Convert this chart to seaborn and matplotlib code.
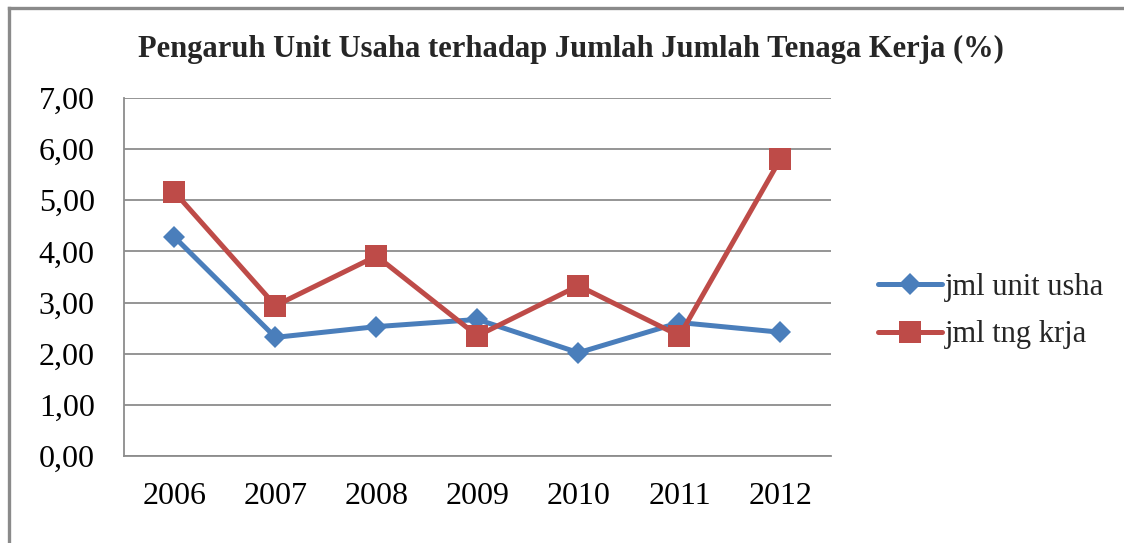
import pandas as pd
import matplotlib.pyplot as plt
import seaborn as sns
from matplotlib.lines import Line2D

# Data
years = ['2006', '2007', '2008', '2009', '2010', '2011', '2012']
unit_usaha = [4.28, 2.32, 2.53, 2.67, 2.02, 2.61, 2.42]
tenaga_kerja = [5.16, 2.94, 3.91, 2.35, 3.33, 2.35, 5.81]
series_names = ['jml unit usha', 'jml tng krja']

df = pd.DataFrame({
    'tahun': years * 2,
    'nilai': unit_usaha + tenaga_kerja,
    'seri': [series_names[0]] * len(years) + [series_names[1]] * len(years),
})

sns.set_style('white')
plt.rcParams['font.family'] = ['Liberation Serif', 'DejaVu Serif']

fig = plt.figure(figsize=(11.24, 5.43), dpi=100)
ax = fig.add_axes([0.1103, 0.1602, 0.6290, 0.6593])

sns.lineplot(data=df, x='tahun', y='nilai', hue='seri', style='seri',
             palette=['#4A7EBB', '#BE4B48'], markers=['D', 's'], dashes=False,
             linewidth=3.6, markeredgewidth=0, ax=ax)

# marker sizes differ per series
marker_sizes = [11.5, 16]
for line, ms in zip(ax.get_lines(), marker_sizes):
    line.set_markersize(ms)

ax.set_xlim(-0.5, 6.5)
ax.set_ylim(0, 7)
ax.set_yticks(range(0, 8))
ax.set_yticklabels([f'{v:.2f}'.replace('.', ',') for v in range(0, 8)])
ax.yaxis.grid(True, color='#8c8c8c', linewidth=1.3)
ax.set_axisbelow(True)
ax.set_xlabel('')
ax.set_ylabel('')
ax.tick_params(axis='both', length=0, labelsize=23, colors='black')
ax.tick_params(axis='y', pad=21)
ax.tick_params(axis='x', pad=19)
for side in ['top', 'right']:
    ax.spines[side].set_visible(False)
for side in ['left', 'bottom']:
    ax.spines[side].set_color('#8c8c8c')
    ax.spines[side].set_linewidth(1.3)

fig.suptitle('Pengaruh Unit Usaha terhadap Jumlah Jumlah Tenaga Kerja (%)',
             x=0.508, y=0.935, fontsize=22, fontweight='bold')

leg = ax.legend(loc='center left', bbox_to_anchor=(1.027, 0.405), frameon=False,
                fontsize=22, handlelength=2.1, handletextpad=0.1, labelspacing=0.62)
for h, ms in zip(leg.legend_handles, marker_sizes):
    h.set_linewidth(3.6)
    h.set_markersize(ms)

# outer chart border (left and top edges; the rest is cropped)
fig.add_artist(Line2D([9 / 1124, 9 / 1124], [0, 1 - 8 / 543], transform=fig.transFigure,
                      color='#8a8a8a', linewidth=2.4, solid_capstyle='projecting'))
fig.add_artist(Line2D([9 / 1124, 1], [1 - 8 / 543, 1 - 8 / 543], transform=fig.transFigure,
                      color='#8a8a8a', linewidth=2.4, solid_capstyle='projecting'))

fig.savefig('out.png', dpi=100)
